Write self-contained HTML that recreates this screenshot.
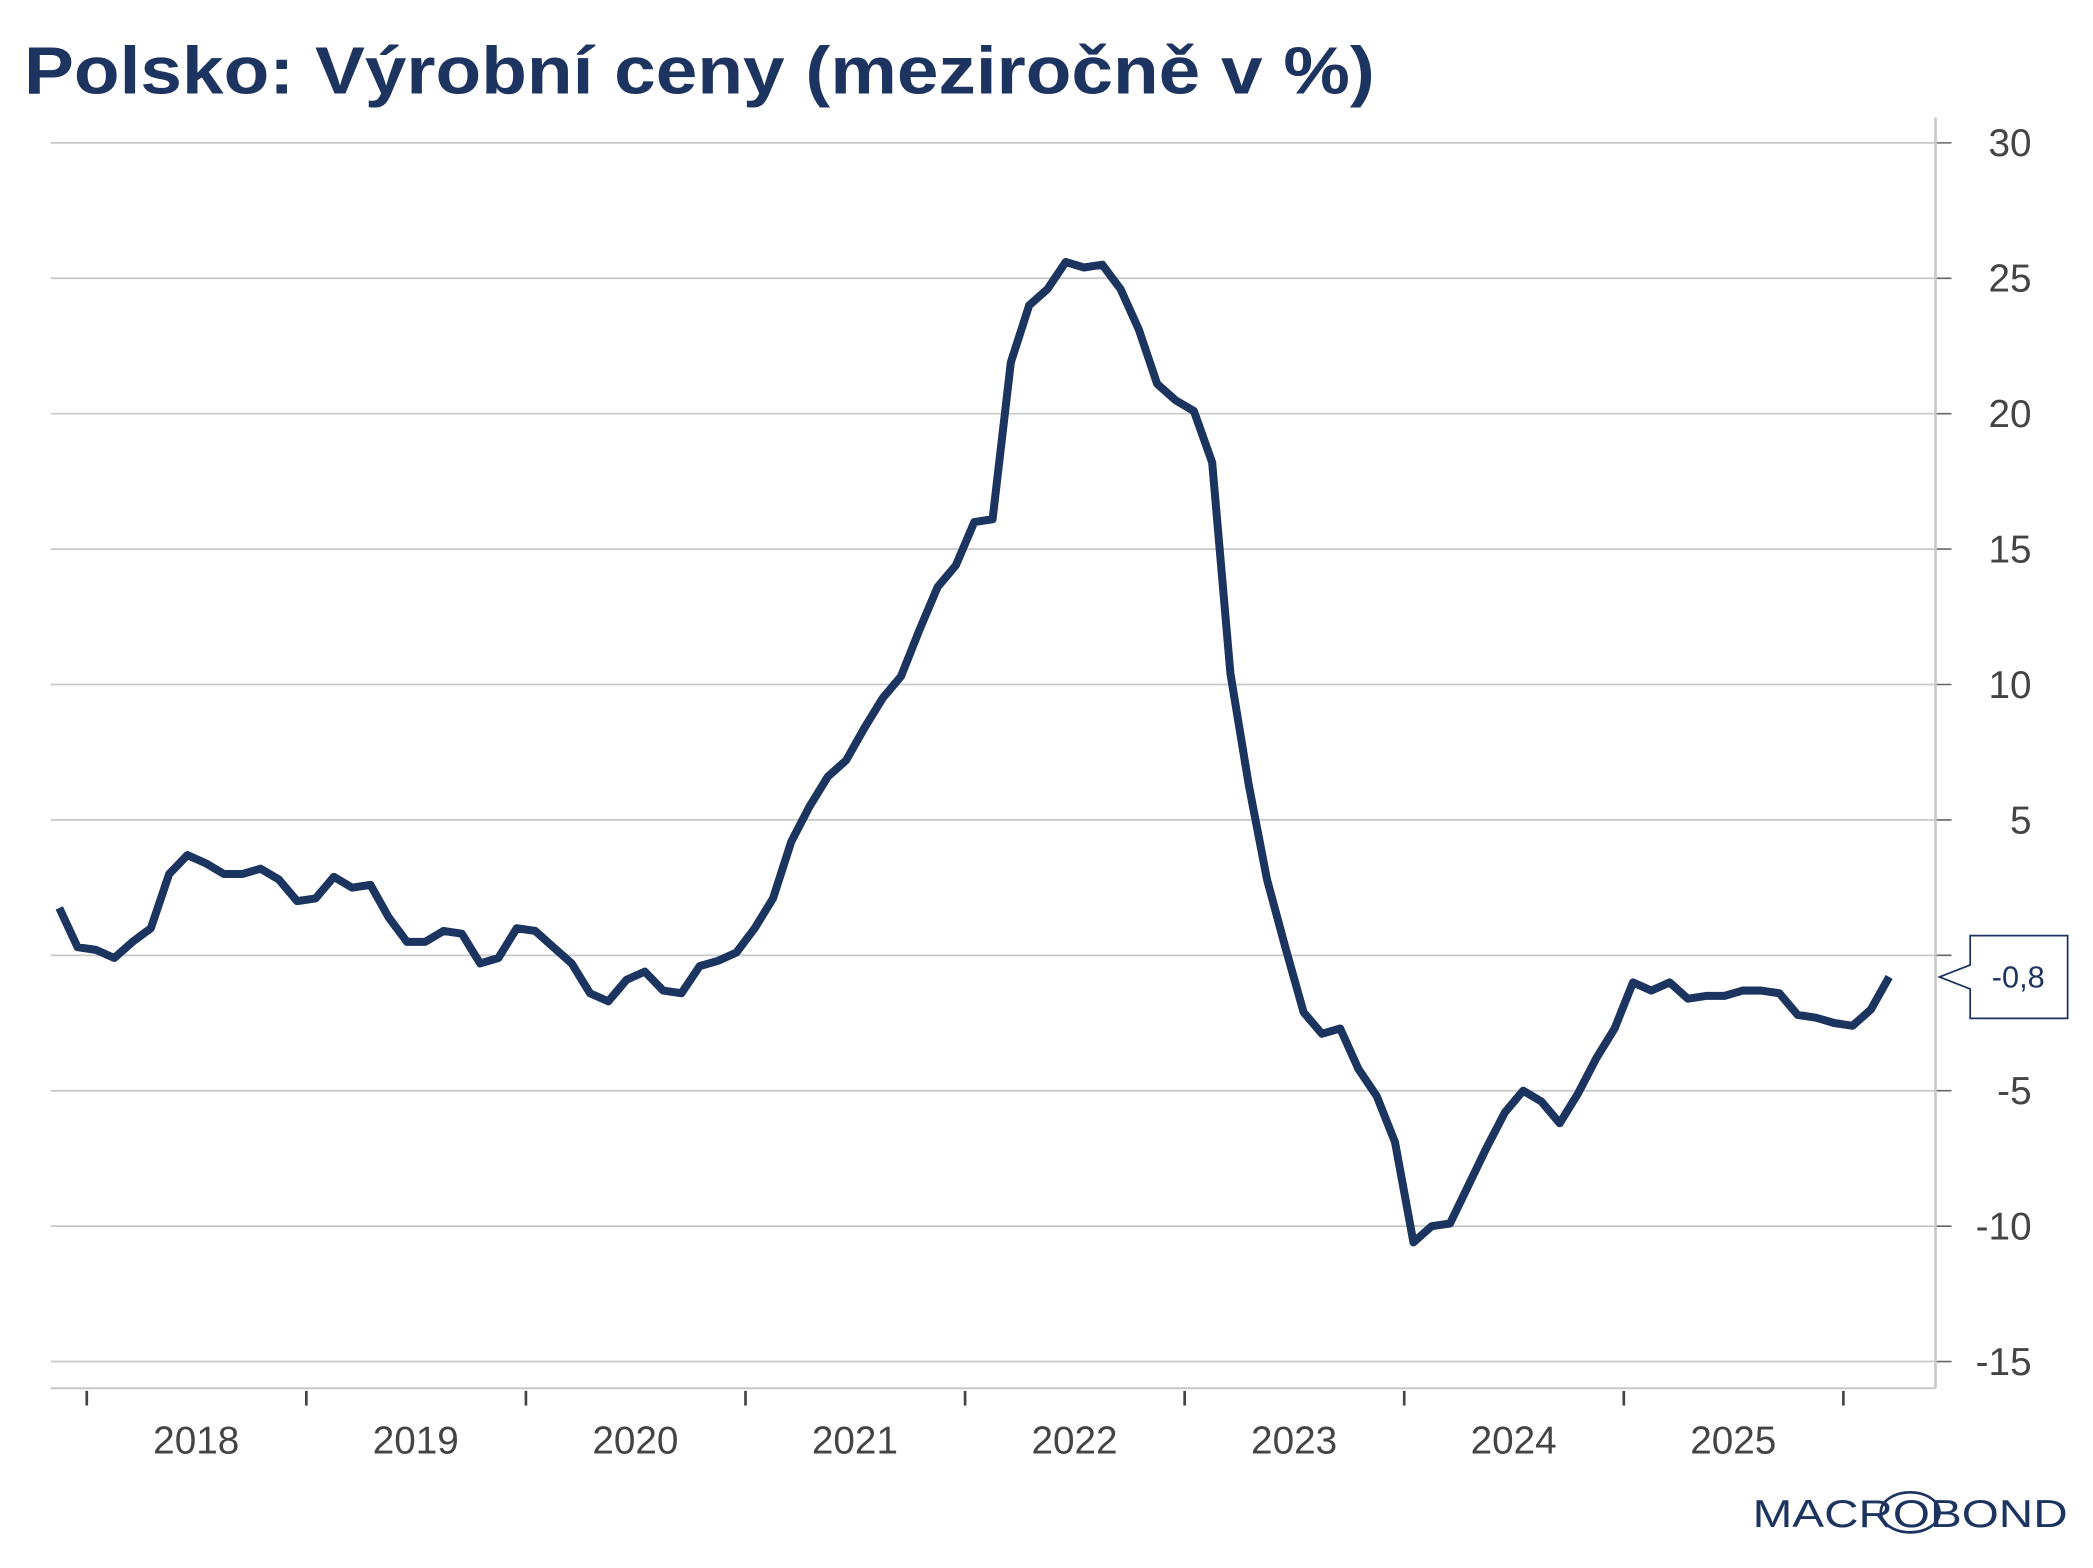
<!DOCTYPE html>
<html><head><meta charset="utf-8"><style>
html,body{margin:0;padding:0;background:#fff}
svg{display:block}
text{font-family:"Liberation Sans",Arial,sans-serif}
</style></head><body>
<svg id="chart" width="2093" height="1568" viewBox="0 0 1568 1174.7" xmlns="http://www.w3.org/2000/svg">
<text x="18" y="70" font-size="50" font-weight="bold" fill="#1d3461" textLength="1012" lengthAdjust="spacingAndGlyphs">Polsko: Výrobní ceny (meziročně v %)</text>
<g id="grid"></g>
<g id="yaxis"></g>
<g id="xaxis"></g>
<path id="line" fill="none" stroke="#1b3560" stroke-width="6" stroke-linejoin="round"/>
<g id="lastlabel"></g>
<g>
<text x="1313" y="1144" font-size="29" fill="#1d3461" textLength="236" lengthAdjust="spacingAndGlyphs">MACROBOND</text>
<ellipse cx="1431" cy="1133" rx="22" ry="15" fill="none" stroke="#1d3461" stroke-width="2"/>
</g>
</svg>
<script>
const yTicks=[30,25,20,15,10,5,0,-5,-10,-15];
const yTickLabels=["30","25","20","15","10","5","","-5","-10","-15"];
const years=["2018","2019","2020","2021","2022","2023","2024","2025"];
const startMonthIndex=-2; // Nov 2017
const values=[1.75,0.3,0.2,-0.1,0.5,1.0,3.0,3.7,3.4,3.0,3.0,3.2,2.8,2.0,2.1,2.9,2.5,2.6,1.4,0.5,0.5,0.9,0.8,-0.3,-0.1,1.0,0.9,0.3,-0.3,-1.4,-1.7,-0.9,-0.6,-1.3,-1.4,-0.4,-0.2,0.1,1.0,2.1,4.2,5.5,6.6,7.2,8.4,9.5,10.3,12.0,13.6,14.4,16.0,16.1,21.9,24.0,24.6,25.6,25.4,25.5,24.6,23.1,21.1,20.5,20.1,18.2,10.4,6.3,2.8,0.3,-2.1,-2.9,-2.7,-4.2,-5.2,-6.9,-10.6,-10.0,-9.9,-8.5,-7.1,-5.8,-5.0,-5.4,-6.2,-5.1,-3.8,-2.7,-1.0,-1.3,-1.0,-1.6,-1.5,-1.5,-1.3,-1.3,-1.4,-2.2,-2.3,-2.5,-2.6,-2.0,-0.8];
const lastLabel="-0,8";

const NS="http://www.w3.org/2000/svg";
const L=38,R=1450,T=88,B=1040;
const y=v=>715.7-v*20.289;
const monthW=164.5/12;
const x=m=>65+(m+0.5)*monthW;
const yearX=i=>65+i*164.5;
function mk(tag,attrs,parent){const e=document.createElementNS(NS,tag);for(const k in attrs)e.setAttribute(k,attrs[k]);parent.appendChild(e);return e;}
const grid=document.getElementById('grid'),ya=document.getElementById('yaxis'),xa=document.getElementById('xaxis');
yTicks.forEach((t,i)=>{
  const g=mk('line',{x1:L,x2:R,y1:y(t),y2:y(t),stroke:'#c8c8c8','stroke-width':1.3},grid);
  
  
  mk('line',{x1:R,x2:R+12,y1:y(t),y2:y(t),stroke:'#666','stroke-width':1.2},ya);
  const tx=mk('text',{x:1522,y:y(t)+10,'font-size':29,fill:'#444','text-anchor':'end'},ya);
  
  
  tx.textContent=yTickLabels[i];
});
mk('line',{x1:R,x2:R,y1:T,y2:B,stroke:'#c8c8c8','stroke-width':2},ya);
mk('line',{x1:L,x2:R,y1:B,y2:B,stroke:'#c8c8c8','stroke-width':1.5},xa);
for(let i=0;i<=years.length;i++){
  mk('line',{x1:yearX(i),x2:yearX(i),y1:B+2,y2:B+13,stroke:'#444','stroke-width':2},xa);
}
years.forEach((yr,i)=>{
  const tx=mk('text',{x:yearX(i)+82,y:1089,'font-size':29,fill:'#444','text-anchor':'middle'},xa);
  
  
  tx.textContent=yr;
});
let d='';
values.forEach((v,i)=>{d+=(i?'L':'M')+x(startMonthIndex+i).toFixed(1)+','+y(v).toFixed(1);});
document.getElementById('line').setAttribute('d',d);
const lv=values[values.length-1],ly=y(lv),lg=document.getElementById('lastlabel');
mk('path',{d:`M1453,${ly} L1476,${ly-9} L1476,${ly-31} L1549,${ly-31} L1549,${ly+31} L1476,${ly+31} L1476,${ly+9} Z`,fill:'#fff',stroke:'#1d3461','stroke-width':1.3},lg);
const lt=mk('text',{x:1512,y:ly+8,'font-size':23,fill:'#1d3461','text-anchor':'middle'},lg);
lt.textContent=lastLabel;
</script>
</body></html>
